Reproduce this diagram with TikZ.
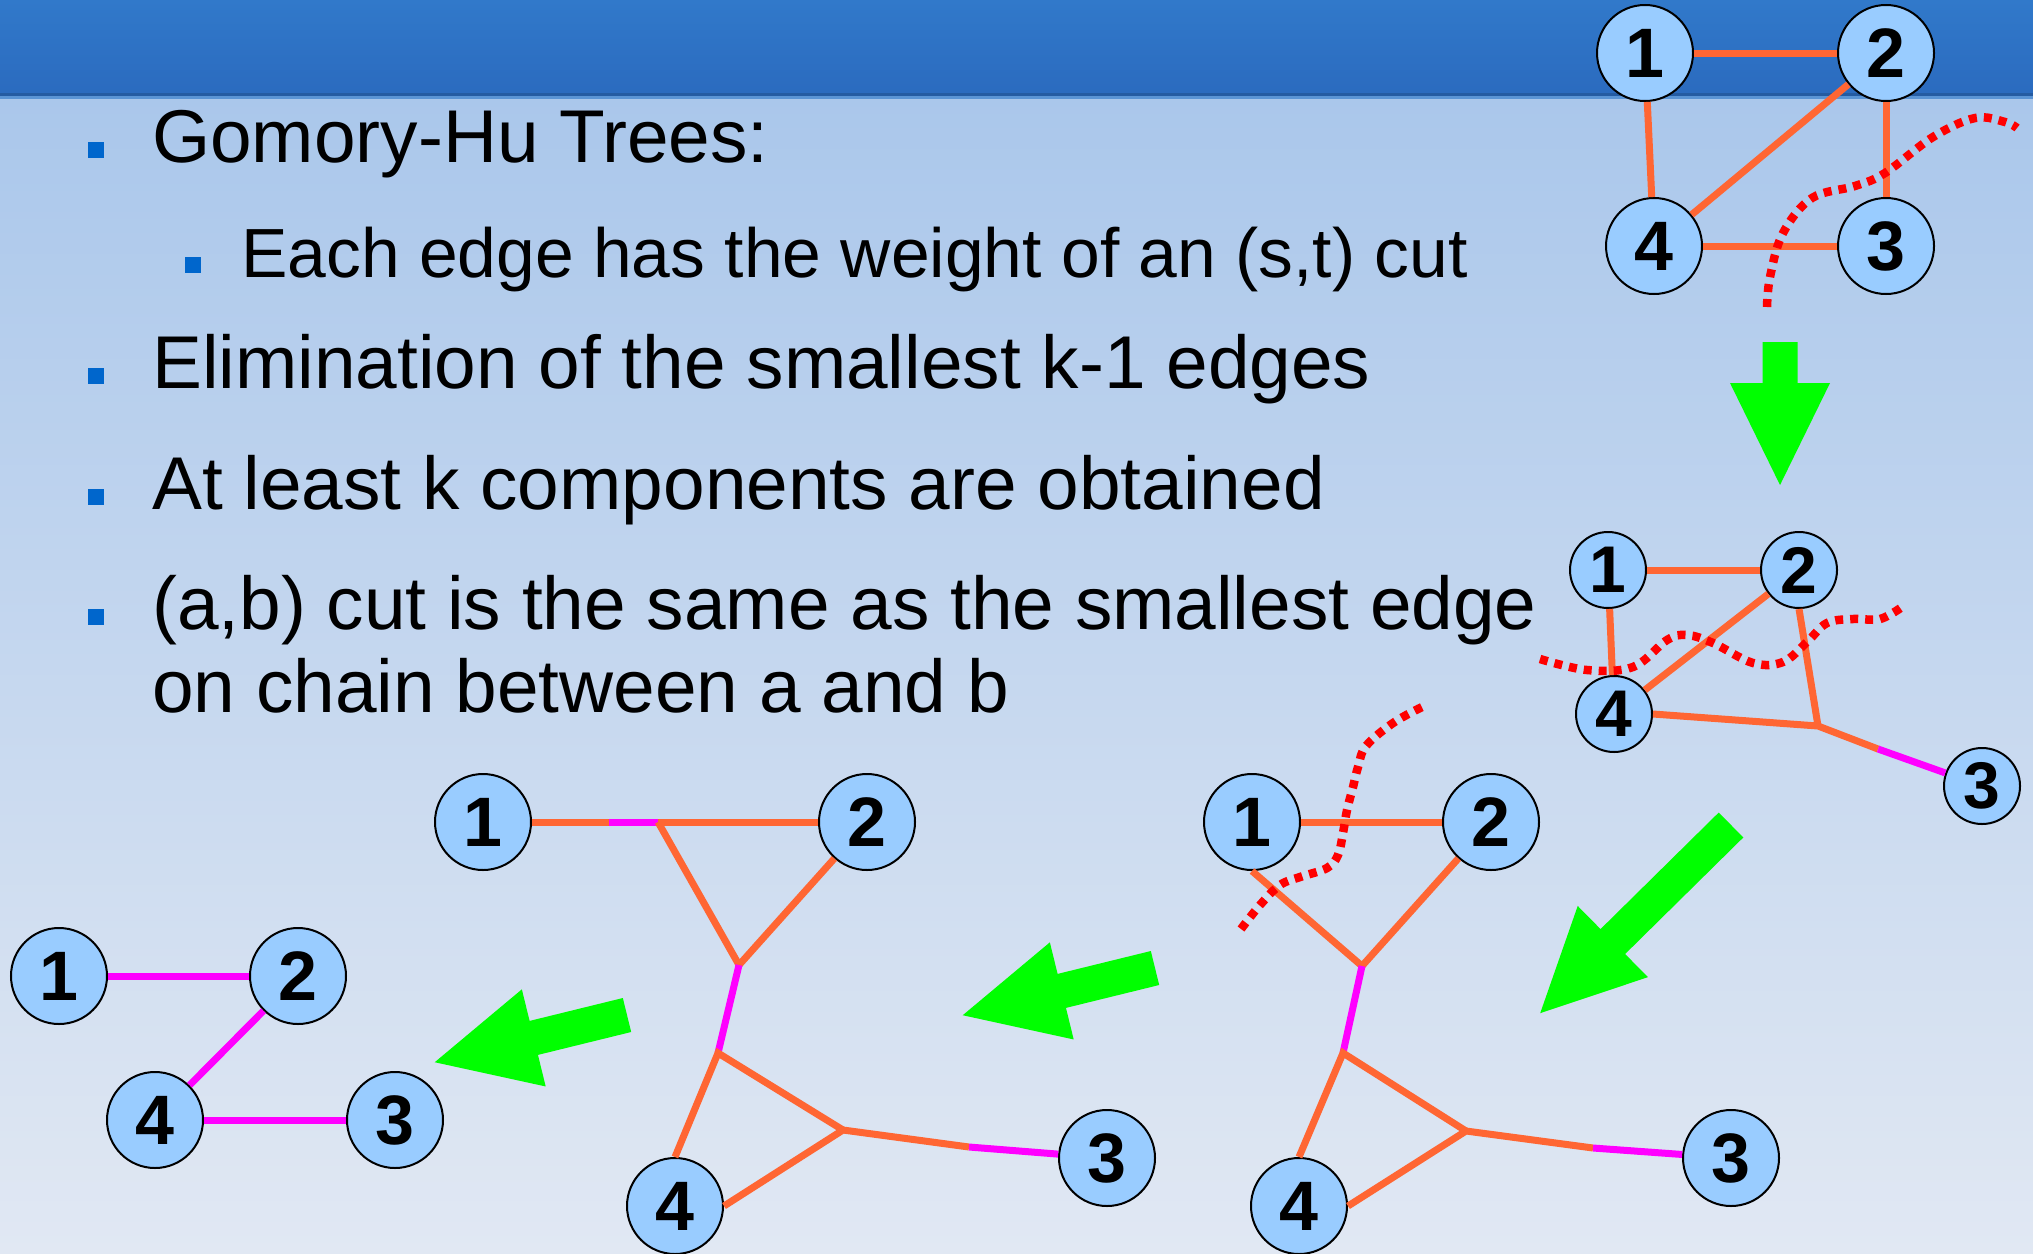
\documentclass[tikz,border=0pt]{standalone}
\usepackage{fontspec}
\setmainfont{Liberation Sans}
\usepackage{tikz}
\usetikzlibrary{arrows.meta,positioning,calc}

\definecolor{headtop}{HTML}{3179CA}
\definecolor{headbot}{HTML}{2B6BBF}
\definecolor{bodytop}{HTML}{AAC7EB}
\definecolor{bodybot}{HTML}{E1E8F3}
\definecolor{bulletblue}{HTML}{0066CC}
\definecolor{nodeblue}{HTML}{99CCFF}
\definecolor{edgeorange}{HTML}{FF6633}
\definecolor{edgemagenta}{HTML}{FF00FF}
\definecolor{cutred}{HTML}{FF0000}
\definecolor{arrowgreen}{HTML}{00FF00}

% fat green arrow: tail point, rotation, length
\newcommand{\fatarrow}[3]{%
  \fill[arrowgreen, shift={#1}, rotate=#2] (0,-17.5) -- (#3-102,-17.5) -- (#3-102,-50) -- (#3,0)
    -- (#3-102,50) -- (#3-102,17.5) -- (0,17.5) -- cycle;}

\begin{document}
\begin{tikzpicture}[x=1pt, y=-1pt,
    vtx/.style={circle, draw, line width=2pt, fill=nodeblue, minimum size=96pt, inner sep=0pt,
      font=\fontsize{70}{70}\selectfont\bfseries},
    svtx/.style={vtx, minimum size=76pt, font=\fontsize{66}{66}\selectfont\bfseries},
    oedge/.style={edgeorange, line width=7pt},
    medge/.style={edgemagenta, line width=7pt},
    cutline/.style={cutred, line width=8.5pt, dash pattern=on 8pt off 7pt},
    bul/.style={fill=bulletblue, minimum size=16pt, inner sep=0pt},
    txt/.style={anchor=base west, inner sep=0pt, font=\fontsize{74.8}{89}\selectfont},
    subtxt/.style={txt, font=\fontsize{69.6}{83}\selectfont}
  ]
  \useasboundingbox (0,0) rectangle (2033,1253);

  % slide background
  \shade[top color=bodytop, bottom color=bodybot] (0,96) rectangle (2033,1253);
  \shade[top color=headtop, bottom color=headbot] (0,0) rectangle (2033,93);
  \fill[headbot!85!black] (0,93) rectangle (2033,96);
  \fill[headtop!80!white] (0,96) rectangle (2033,99);

  % bullet list
  \node[bul] (bu1) at (96,150) {};
  \node[txt] (t1) at (152,162) {Gomory-Hu Trees:};
  \node[bul] (bu2) at (193,265) {};
  \node[subtxt] (t2) at (241,277) {Each edge has the weight of an (s,t) cut};
  \node[bul] (bu3) at (96,376) {};
  \node[txt] (t3) at (152,388) {Elimination of the smallest k-1 edges};
  \node[bul] (bu4) at (96,497) {};
  \node[txt] (t4) at (152,509) {At least k components are obtained};
  \node[bul] (bu5) at (96,617) {};
  \node[txt] (t5) at (152,629) {(a,b) cut is the same as the smallest edge};
  \node[txt] (t6) at (152,712) {on chain between a and b};

  % original graph
  \node[vtx] (a1) at (1645,53) {1};
  \node[vtx] (a2) at (1886,53) {2};
  \node[vtx] (a4) at (1654,246) {4};
  \node[vtx] (a3) at (1886,246) {3};
  \draw[oedge] (a1) -- (a2);
  \draw[oedge] (a1) -- (a4);
  \draw[oedge] (a2) -- (a4);
  \draw[oedge] (a2) -- (a3);
  \draw[oedge] (a4) -- (a3);
  \draw[cutline] plot[smooth, tension=0.6] coordinates {(1767,307) (1770,277) (1783,233) (1812,198)
    (1855,186) (1885,173) (1933,137) (1975,118) (2005,122) (2017,128)};

  \fatarrow{(1780,342)}{-90}{143}

  % first cut
  \node[svtx] (b1) at (1608,570) {1};
  \node[svtx] (b2) at (1799,570) {2};
  \node[svtx] (b4) at (1614,714) {4};
  \node[svtx] (b3) at (1982,786) {3};
  \coordinate (bj) at (1818,726);
  \coordinate (bk) at (1878,749);
  \draw[oedge] (b1) -- (b2);
  \draw[oedge] (b1) -- (b4);
  \draw[oedge] (b2) -- (b4);
  \draw[oedge] (b2.south) -- (bj);
  \draw[oedge] (b4.east) -- (bj) -- (bk);
  \draw[medge] (bk) -- (b3);
  \draw[cutline] plot[smooth, tension=0.6] coordinates {(1540,659) (1587,670) (1633,667) (1667,640)
    (1687,635) (1713,643) (1753,663) (1783,662) (1807,642) (1827,623) (1853,619) (1880,619) (1902,607)};

  \fatarrow{(1731,825)}{-135.4}{268}

  % second cut
  \node[vtx] (c1) at (1252,822) {1};
  \node[vtx] (c2) at (1491,822) {2};
  \node[vtx] (c4) at (1299,1206) {4};
  \node[vtx] (c3) at (1731,1158) {3};
  \coordinate (cv) at (1362,966);
  \coordinate (cw) at (1343,1053);
  \coordinate (cr) at (1466,1131);
  \coordinate (cb) at (1593,1148);
  \draw[oedge] (c1) -- (c2);
  \draw[oedge] (c1.south) -- (cv) -- (c2);
  \draw[medge] (cv) -- (cw);
  \draw[oedge] (c4.north) -- (cw) -- (cr);
  \draw[oedge] (c4.east) -- (cr) -- (cb);
  \draw[medge] (cb) -- (c3);
  \draw[cutline] plot[smooth, tension=0.6] coordinates {(1241,929) (1260,905) (1280,885) (1300,877)
    (1327,868) (1338,855) (1343,833) (1347,810) (1353,787) (1358,767) (1366,746) (1393,723) (1422,707)};

  \fatarrow{(1155,968)}{-166.2}{198}

  % third cut
  \node[vtx] (d1) at (483,822) {1};
  \node[vtx] (d2) at (867,822) {2};
  \node[vtx] (d4) at (675,1206) {4};
  \node[vtx] (d3) at (1107,1158) {3};
  \coordinate (dm) at (609,822);
  \coordinate (dt) at (658,822);
  \coordinate (dv) at (739,965);
  \coordinate (dw) at (718,1053);
  \coordinate (dr) at (843,1130);
  \coordinate (db) at (969,1147);
  \draw[oedge] (d1) -- (dm);
  \draw[medge] (dm) -- (dt);
  \draw[oedge] (dt) -- (d2);
  \draw[oedge] (dt) -- (dv) -- (d2);
  \draw[medge] (dv) -- (dw);
  \draw[oedge] (d4.north) -- (dw) -- (dr);
  \draw[oedge] (d4.east) -- (dr) -- (db);
  \draw[medge] (db) -- (d3);

  \fatarrow{(627,1015)}{-166.2}{198}

  % resulting tree
  \node[vtx] (e1) at (59,976) {1};
  \node[vtx] (e2) at (298,976) {2};
  \node[vtx] (e4) at (155,1120) {4};
  \node[vtx] (e3) at (395,1120) {3};
  \draw[medge] (e1) -- (e2);
  \draw[medge] (e2) -- (e4);
  \draw[medge] (e4) -- (e3);
\end{tikzpicture}
\end{document}
